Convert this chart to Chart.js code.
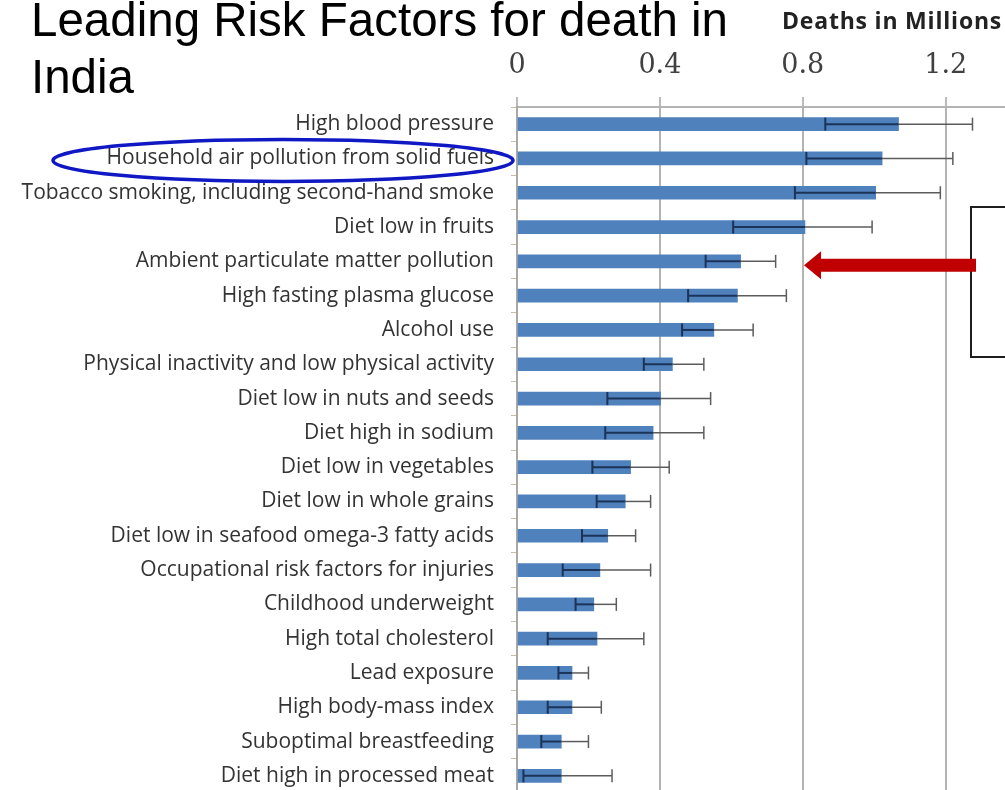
<!DOCTYPE html>
<html>
<head>
<meta charset="utf-8">
<title>Leading Risk Factors for death in India</title>
<script src="https://cdn.jsdelivr.net/npm/chart.js@4/dist/chart.umd.min.js"></script>
<style>
  html, body { margin: 0; padding: 0; background: #fff; overflow: hidden; }
  #wrap { position: relative; width: 1005px; height: 790px; overflow: hidden; }
  #chart { position: absolute; left: 0; top: 0; }
  .title {
    position: absolute; left: 31px; top: -9px;
    font-family: 'Liberation Sans', Arial, sans-serif;
    font-size: 47.5px; line-height: 57px; color: #000; width: 730px;
  }
  .unit {
    position: absolute; left: 782px; top: 8px; white-space: nowrap;
    font-family: 'Open Sans', sans-serif; font-weight: 700;
    font-size: 23px; line-height: 24px; color: #222; letter-spacing: 0.8px;
  }
</style>
</head>
<body>
<div id="wrap">
  <canvas id="chart" width="1005" height="793"></canvas>
  <div class="title">Leading Risk Factors for death in<br>India</div>
  <div class="unit">Deaths in Millions</div>
</div>
<script>
// Risk factors, ordered from largest to smallest burden
const riskFactors = [
  'High blood pressure',
  'Household air pollution from solid fuels',
  'Tobacco smoking, including second-hand smoke',
  'Diet low in fruits',
  'Ambient particulate matter pollution',
  'High fasting plasma glucose',
  'Alcohol use',
  'Physical inactivity and low physical activity',
  'Diet low in nuts and seeds',
  'Diet high in sodium',
  'Diet low in vegetables',
  'Diet low in whole grains',
  'Diet low in seafood omega-3 fatty acids',
  'Occupational risk factors for injuries',
  'Childhood underweight',
  'High total cholesterol',
  'Lead exposure',
  'High body-mass index',
  'Suboptimal breastfeeding',
  'Diet high in processed meat'
];

// Deaths (millions) and uncertainty interval
const deaths     = [1.068, 1.022, 1.004, 0.806, 0.626, 0.617, 0.551, 0.435, 0.402, 0.381, 0.318, 0.303, 0.254, 0.232, 0.215, 0.224, 0.154, 0.154, 0.124, 0.124];
const lowerBound = [0.863, 0.810, 0.778, 0.605, 0.528, 0.479, 0.462, 0.355, 0.253, 0.247, 0.211, 0.223, 0.182, 0.128, 0.164, 0.086, 0.116, 0.086, 0.068, 0.018];
const upperBound = [1.275, 1.220, 1.185, 0.994, 0.724, 0.754, 0.661, 0.523, 0.542, 0.523, 0.426, 0.374, 0.332, 0.374, 0.278, 0.355, 0.200, 0.236, 0.200, 0.266];

// Axis ticks
const axisTicks = [0, 0.4, 0.8, 1.2];
const axisMax = 1.366;

// Whiskers for the uncertainty interval of each bar
const errorBars = {
  id: 'errorBars',
  afterDatasetsDraw(chart) {
    const { ctx, scales: { x, y } } = chart;
    const seg = (x0, y0, x1, y1) => { ctx.beginPath(); ctx.moveTo(x0, y0); ctx.lineTo(x1, y1); ctx.stroke(); };
    ctx.save();
    ctx.lineCap = 'butt';
    riskFactors.forEach((_, i) => {
      const cy = y.getPixelForValue(i);
      const xl = x.getPixelForValue(lowerBound[i]);
      const xu = x.getPixelForValue(upperBound[i]);
      const xb = x.getPixelForValue(deaths[i]);
      ctx.strokeStyle = '#5c5c5c';
      ctx.lineWidth = 1.5;
      seg(xb, cy, xu, cy);
      seg(xu, cy - 6.5, xu, cy + 6.5);
      ctx.strokeStyle = '#1c3358';
      ctx.lineWidth = 2;
      seg(xl, cy, xb, cy);
      seg(xl, cy - 6.5, xl, cy + 6.5);
    });
    ctx.restore();
  }
};

// Highlight ring, pointer arrow and side note frame
const callouts = {
  id: 'callouts',
  afterDraw(chart) {
    const { ctx, scales: { y } } = chart;
    ctx.save();
    // ring around the household air pollution label
    const ey = y.getPixelForValue(1) + 2;
    ctx.strokeStyle = '#1018c4';
    ctx.lineWidth = 3.5;
    ctx.beginPath();
    ctx.ellipse(283, ey, 230, 21, 0, 0, Math.PI * 2);
    ctx.stroke();

    // side note frame
    ctx.strokeStyle = '#1e1e1e';
    ctx.lineWidth = 2;
    ctx.strokeRect(971, 207, 60, 150);

    // arrow pointing at the ambient particulate matter bar
    const ay = y.getPixelForValue(4) + 4;
    ctx.fillStyle = '#c00000';
    ctx.beginPath();
    ctx.moveTo(804, ay);
    ctx.lineTo(821, ay - 14);
    ctx.lineTo(821, ay - 6.5);
    ctx.lineTo(976, ay - 6.5);
    ctx.lineTo(976, ay + 6.5);
    ctx.lineTo(821, ay + 6.5);
    ctx.lineTo(821, ay + 14);
    ctx.closePath();
    ctx.fill();
    ctx.restore();
  }
};

// Scales get fixed sizes so the plot area starts at the same place every time
const noScalePadding = scale => {
  scale.paddingTop = 0;
  scale.paddingBottom = 0;
  scale.paddingLeft = 0;
  scale.paddingRight = 0;
};

new Chart(document.getElementById('chart'), {
  type: 'bar',
  data: {
    labels: riskFactors,
    datasets: [{
      data: deaths,
      backgroundColor: '#4f81bd',
      borderWidth: 0,
      barThickness: 13
    }]
  },
  options: {
    indexAxis: 'y',
    responsive: false,
    devicePixelRatio: 1,
    animation: false,
    layout: { padding: 0 },
    plugins: { legend: { display: false }, tooltip: { enabled: false }, title: { display: false } },
    scales: {
      x: {
        position: 'top',
        min: 0,
        max: axisMax,
        afterFit(scale) { scale.height = 107; noScalePadding(scale); },
        afterBuildTicks(scale) { scale.ticks = axisTicks.map(v => ({ value: v })); },
        ticks: {
          padding: 15,
          color: '#404040',
          font: { family: 'DejaVu Serif', size: 27 },
          callback: v => String(v)
        },
        grid: {
          color: '#b3b3b3',
          lineWidth: 2,
          drawTicks: true,
          tickLength: 10,
          tickColor: '#777',
          tickWidth: 1
        },
        border: { display: true, color: '#b3b3b3', width: 2 }
      },
      y: {
        afterFit(scale) { scale.width = 517; noScalePadding(scale); },
        ticks: {
          padding: 17,
          color: '#333',
          font: { family: 'Open Sans', size: 21 },
          autoSkip: false
        },
        grid: {
          offset: true,
          drawOnChartArea: false,
          drawTicks: true,
          tickLength: 6,
          color: '#c8bba8',
          lineWidth: 1
        },
        border: { display: true, color: '#a8a8a8', width: 2 }
      }
    }
  },
  plugins: [errorBars, callouts]
});
</script>
</body>
</html>
